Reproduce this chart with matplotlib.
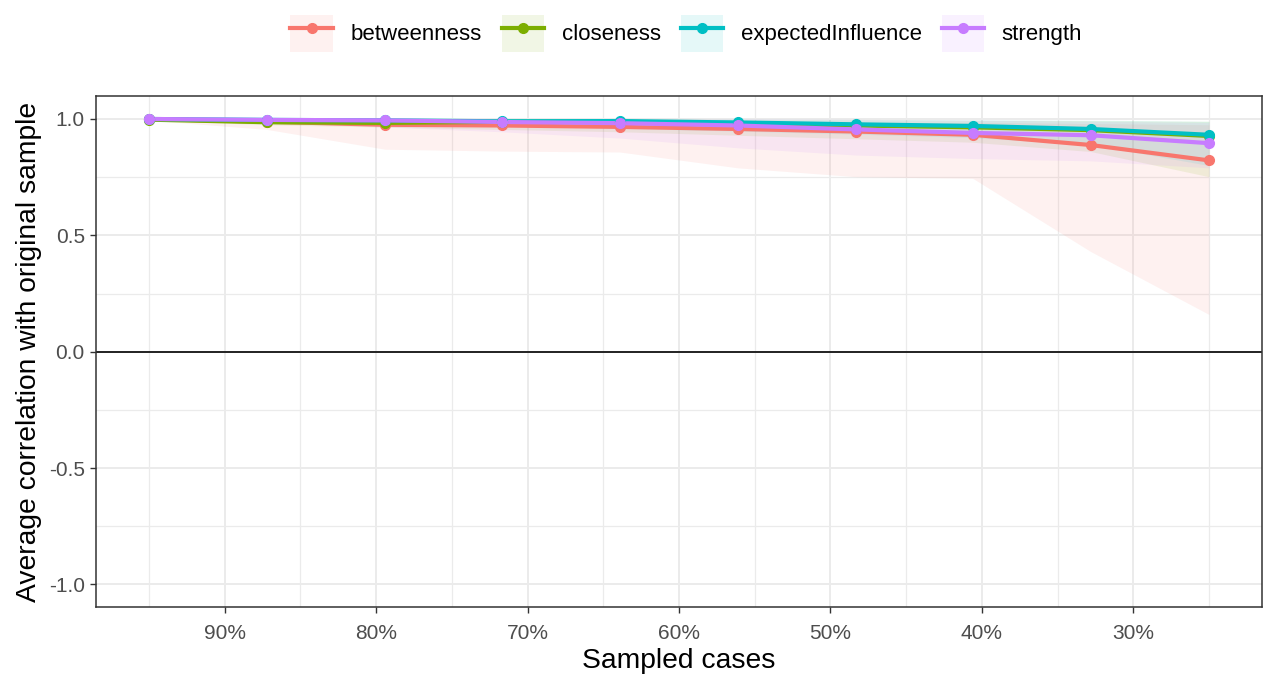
import numpy as np
import matplotlib.pyplot as plt
from matplotlib.lines import Line2D
from matplotlib.patches import Patch
from matplotlib.legend_handler import HandlerTuple
from matplotlib.ticker import FixedLocator, FuncFormatter

plt.rcParams['font.family'] = ['Liberation Sans', 'DejaVu Sans']

# proportion of cases kept (%)
sampled = [95.0, 87.2, 79.4, 71.7, 63.9, 56.1, 48.3, 40.6, 32.8, 25.0]

measures = ["betweenness", "closeness", "expectedInfluence", "strength"]
colors = ["#F8766D", "#7CAE00", "#00BFC4", "#C77CFF"]

# mean correlation with original sample
betweenness_mean = [1.000, 0.988, 0.975, 0.972, 0.966, 0.957, 0.946, 0.932, 0.888, 0.822]
closeness_mean = [0.997, 0.986, 0.983, 0.988, 0.988, 0.980, 0.972, 0.964, 0.952, 0.927]
expinf_mean = [1.000, 0.996, 0.994, 0.990, 0.991, 0.985, 0.977, 0.970, 0.957, 0.932]
strength_mean = [1.000, 0.996, 0.994, 0.987, 0.982, 0.972, 0.955, 0.940, 0.930, 0.896]

# 2.5% / 97.5% quantiles
betweenness_lo = [0.995, 0.955, 0.870, 0.862, 0.858, 0.790, 0.752, 0.745, 0.430, 0.160]
betweenness_hi = [1.000, 1.000, 0.998, 0.995, 0.993, 0.990, 0.985, 0.985, 0.980, 0.975]
closeness_lo = [0.995, 0.975, 0.965, 0.955, 0.945, 0.930, 0.915, 0.900, 0.860, 0.752]
closeness_hi = [1.000, 1.000, 1.000, 1.000, 1.000, 0.998, 0.997, 0.995, 0.993, 0.990]
expinf_lo = [0.997, 0.990, 0.982, 0.972, 0.960, 0.948, 0.935, 0.920, 0.890, 0.800]
expinf_hi = [1.000, 1.000, 1.000, 1.000, 1.000, 0.999, 0.998, 0.997, 0.995, 0.990]
strength_lo = [0.998, 0.985, 0.965, 0.945, 0.918, 0.876, 0.845, 0.830, 0.820, 0.790]
strength_hi = [1.000, 1.000, 1.000, 1.000, 1.000, 1.000, 0.998, 0.995, 0.990, 0.985]

means = [betweenness_mean, closeness_mean, expinf_mean, strength_mean]
lows = [betweenness_lo, closeness_lo, expinf_lo, strength_lo]
highs = [betweenness_hi, closeness_hi, expinf_hi, strength_hi]

fig = plt.figure(figsize=(12.64, 6.82), dpi=100)
ax = fig.add_axes([0.0759, 0.110, 0.9225, 0.749])

# ribbons, then lines, then points (ggplot layer order)
for lo, hi, c in zip(lows, highs, colors):
    ax.fill_between(sampled, lo, hi, color=c, alpha=0.1, lw=0)
ax.axhline(0, color="black", lw=1.2, zorder=2)
for m, c in zip(means, colors):
    ax.plot(sampled, m, color=c, lw=3, zorder=3, solid_capstyle="butt")
for m, c in zip(means, colors):
    ax.plot(sampled, m, "o", color=c, ms=7, zorder=4)

ax.set_xlim(98.5, 21.5)
ax.set_ylim(-1.097, 1.098)

ax.xaxis.set_major_locator(FixedLocator([90, 80, 70, 60, 50, 40, 30]))
ax.xaxis.set_minor_locator(FixedLocator([95, 85, 75, 65, 55, 45, 35, 25]))
ax.xaxis.set_major_formatter(FuncFormatter(lambda v, p: f"{v:.0f}%"))
ax.yaxis.set_major_locator(FixedLocator([-1, -0.5, 0, 0.5, 1]))
ax.yaxis.set_minor_locator(FixedLocator([-0.75, -0.25, 0.25, 0.75]))
ax.yaxis.set_major_formatter(FuncFormatter(lambda v, p: f"{v:.1f}"))

ax.grid(which="major", color="#EBEBEB", lw=1.4, zorder=0)
ax.grid(which="minor", color="#EBEBEB", lw=0.9, zorder=0)
ax.set_axisbelow(True)
ax.tick_params(which="major", length=4, width=1, color="#333333",
               labelsize=15, labelcolor="#4D4D4D")
ax.tick_params(axis="x", pad=8)
ax.tick_params(axis="y", pad=4)
ax.tick_params(which="minor", length=0)
for s in ax.spines.values():
    s.set_color("#333333")
    s.set_linewidth(1.1)

ax.set_xlabel("Sampled cases", fontsize=20.3, labelpad=4)
ax.set_ylabel("Average correlation with original sample", fontsize=20.3, labelpad=5)

# legend keys: faint ribbon square with the line and point on top
handles = [(Patch(facecolor=c, alpha=0.1, lw=0),
            Line2D([], [], color=c, lw=3, marker="o", ms=7)) for c in colors]
fig.legend(handles, measures, loc="center", bbox_to_anchor=(0.543, 0.951),
           ncol=4, frameon=False, fontsize=16,
           handler_map={tuple: HandlerTuple(ndivide=1, pad=0)},
           handlelength=1.9, handleheight=2.2, handletextpad=0.8,
           columnspacing=0.9, borderpad=0)

fig.savefig("out.png", dpi=100)
